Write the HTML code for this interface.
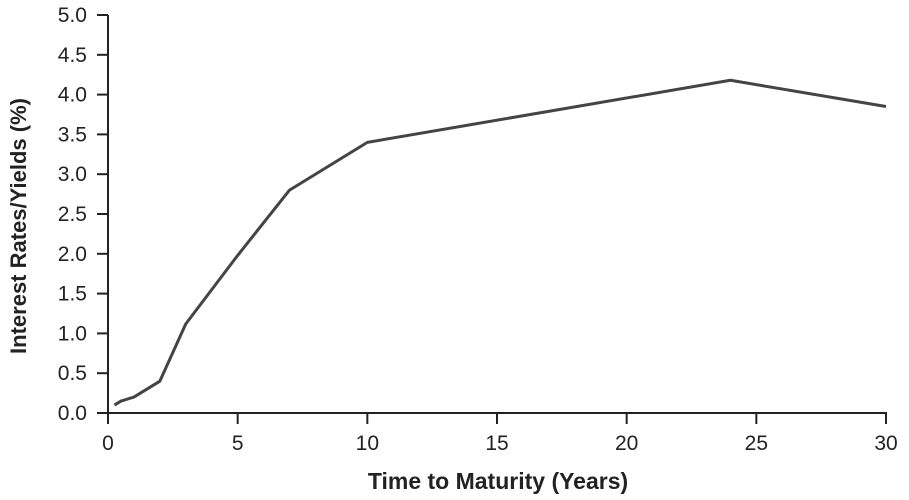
<!DOCTYPE html>
<html><head><meta charset="utf-8"><style>
body{margin:0;background:#fff}
svg text{font-family:"Liberation Sans",Arial,sans-serif;fill:#222}
</style></head><body>
<svg width="909" height="495" xmlns="http://www.w3.org/2000/svg">
<g id="axes"></g><g id="plot"></g>
<text x="498" y="489" text-anchor="middle" font-size="23" font-weight="bold">Time to Maturity (Years)</text>
<text transform="translate(26,226) rotate(-90)" text-anchor="middle" font-size="22" font-weight="bold">Interest Rates/Yields (%)</text>
</svg>
<script>
const maturities=[0.25,0.5,1,2,3,5,7,10,24,30];
const yields=[0.1,0.15,0.2,0.4,1.12,1.98,2.8,3.4,4.18,3.85];
const xTicks=[0,5,10,15,20,25,30];
const yTicks=["0.0","0.5","1.0","1.5","2.0","2.5","3.0","3.5","4.0","4.5","5.0"];
const NS="http://www.w3.org/2000/svg";
const x=v=>108+v*(886-108)/30;
const y=v=>413-v*(413-15)/5;
const axes=document.getElementById('axes'),plot=document.getElementById('plot');
function mk(tag,at,parent){const e=document.createElementNS(NS,tag);for(const k in at)e.setAttribute(k,at[k]);parent.appendChild(e);return e;}
let e=mk('line',{x1:108,y1:15,x2:108,y2:413,stroke:'#222','stroke-width':2},axes);


e=mk('line',{x1:108,y1:413,x2:887,y2:413,stroke:'#222','stroke-width':2},axes);


yTicks.forEach(t=>{const v=parseFloat(t);
 e=mk('line',{x1:97,y1:y(v),x2:108,y2:y(v),stroke:'#222','stroke-width':2},axes);
 
 
 e=mk('text',{x:87,y:y(v)+7,'text-anchor':'end','font-size':21},axes);e.textContent=t;
 
 
});
xTicks.forEach(t=>{
 e=mk('line',{x1:x(t),y1:413,x2:x(t),y2:424,stroke:'#222','stroke-width':2},axes);
 
 
 e=mk('text',{x:x(t),y:450,'text-anchor':'middle','font-size':21},axes);e.textContent=t;
 
 
});
e=mk('polyline',{points:maturities.map((m,i)=>x(m)+','+y(yields[i])).join(' '),fill:'none',stroke:'#444','stroke-width':3,'stroke-linejoin':'round'},plot);


</script>
</body></html>
